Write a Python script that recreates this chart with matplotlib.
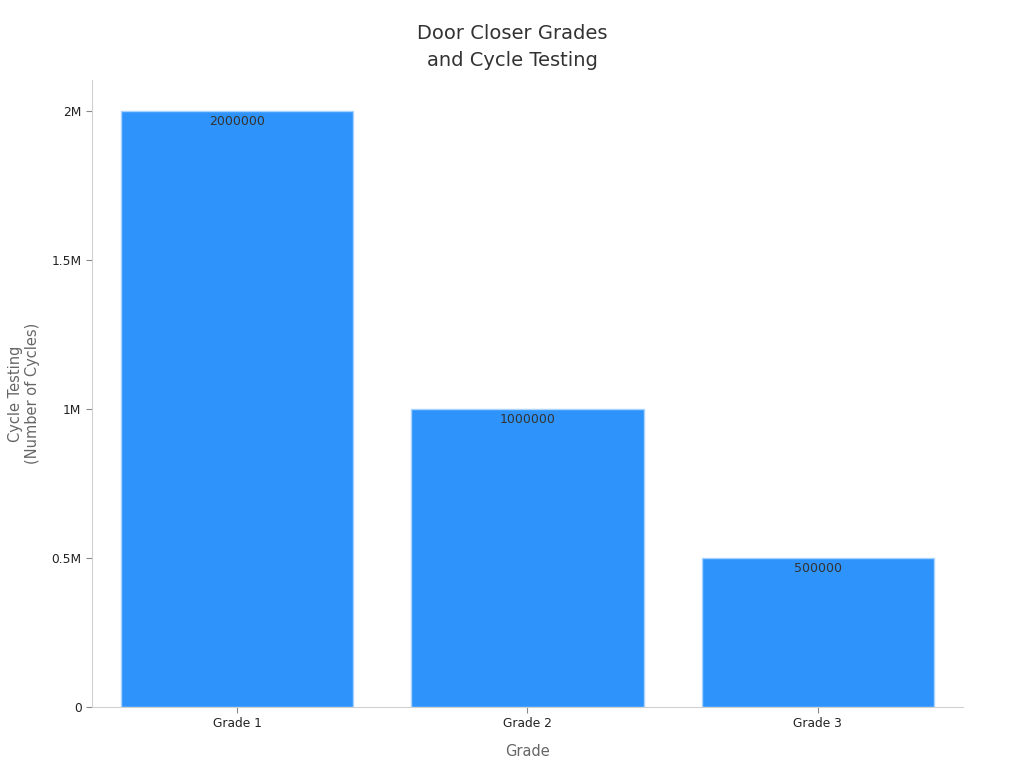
import matplotlib.pyplot as plt
from matplotlib.ticker import FuncFormatter

grades = ["Grade 1", "Grade 2", "Grade 3"]
cycles = [2000000, 1000000, 500000]

fig = plt.figure(figsize=(10.24, 7.68), dpi=100)
ax = fig.add_axes([0.0898, 0.0794, 0.8506, 0.8164])

bars = ax.bar(range(len(grades)), cycles, width=0.8, color="#2E93FA",
              edgecolor="#A9D3FF", linewidth=1)

for i, v in enumerate(cycles):
    ax.text(i, v - 12000, str(v), ha="center", va="top", fontsize=9, color="#333333")

def fmt(x, pos):
    if x == 0:
        return "0"
    return "{:g}M".format(x / 1e6)

ax.yaxis.set_major_formatter(FuncFormatter(fmt))
ax.set_yticks([0, 500000, 1000000, 1500000, 2000000])
ax.set_ylim(0, 2104000)
ax.set_xlim(-0.5, 2.5)
ax.set_xticks(range(len(grades)))
ax.set_xticklabels(grades)

for s in ["top", "right"]:
    ax.spines[s].set_visible(False)
for s in ["left", "bottom"]:
    ax.spines[s].set_color("#d0d0d0")
ax.tick_params(axis="both", labelsize=8.8, colors="#222222", length=4)
ax.tick_params(axis="both", color="#888888")

ax.set_xlabel("Grade", fontsize=10.5, color="#666666", labelpad=10)
ax.set_ylabel("Cycle Testing\n(Number of Cycles)", fontsize=10.5, color="#666666", labelpad=8)
fig.text(0.5, 0.939, "Door Closer Grades\nand Cycle Testing", fontsize=14, color="#333333",
         ha="center", va="center", linespacing=1.5)

fig.savefig("out.png", dpi=100)
